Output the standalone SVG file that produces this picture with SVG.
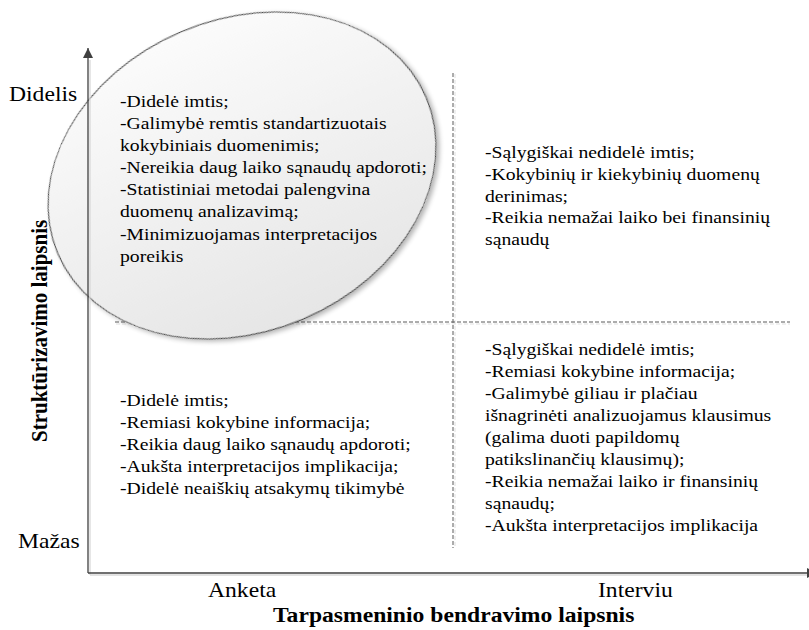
<svg xmlns="http://www.w3.org/2000/svg" width="809" height="630" viewBox="0 0 809 630">
  <defs>
    <linearGradient id="ellFill" x1="0" y1="0" x2="0" y2="1">
      <stop offset="0" stop-color="#fbfbfb"/>
      <stop offset="1" stop-color="#e6e6e6"/>
    </linearGradient>
    <filter id="shadow" x="-10%" y="-10%" width="125%" height="125%">
      <feGaussianBlur in="SourceAlpha" stdDeviation="2.5"/>
      <feOffset dx="2" dy="3" result="b"/>
      <feComponentTransfer><feFuncA type="linear" slope="0.3"/></feComponentTransfer>
      <feMerge><feMergeNode/><feMergeNode in="SourceGraphic"/></feMerge>
    </filter>
    <marker id="arrow" viewBox="0 0 10 10" refX="10" refY="5" markerWidth="10" markerHeight="10" markerUnits="userSpaceOnUse" orient="auto">
      <path d="M0,0 L10,5 L0,10 Z" fill="#404040"/>
    </marker>
  </defs>
  <style>
    .t { font-family: "Liberation Serif", "Times New Roman", serif; font-size: 17.5px; fill: #000; }
    .lab { font-family: "Liberation Serif", "Times New Roman", serif; font-size: 21px; fill: #000; }
    .ttl { font-family: "Liberation Serif", "Times New Roman", serif; font-size: 21px; font-weight: bold; fill: #000; }
    .axis { stroke: #404040; stroke-width: 1.3; fill: none; }
    .axshadow { stroke: #d9d9d9; stroke-width: 1.3; fill: none; }
    .dash { stroke: #5a5a5a; stroke-width: 1; stroke-dasharray: 4 2; fill: none; }
    .dashshadow { stroke: #e0e0e0; stroke-width: 1; stroke-dasharray: 4 2; fill: none; }
  </style>
  <rect width="809" height="630" fill="#ffffff"/>

  <g id="connectors">
    <line class="dashshadow" x1="116" y1="324" x2="790" y2="324"/>
    <line class="dashshadow" x1="455" y1="74" x2="455" y2="548"/>
    <line class="dash" x1="115" y1="322" x2="790" y2="322"/>
    <line class="dash" x1="453" y1="73" x2="453" y2="548"/>
  </g>

  <g id="ellipse-node">
    <ellipse cx="242" cy="175.5" rx="200" ry="156" transform="rotate(-23 242 175.5)" fill="url(#ellFill)" stroke="#3a3a3a" stroke-width="1" filter="url(#shadow)"/>
  </g>

  <g id="axes">
    <line class="axshadow" x1="90" y1="60" x2="90" y2="575"/>
    <line class="axshadow" x1="90" y1="575" x2="808" y2="575"/>
    <line class="axis" x1="88" y1="573" x2="88" y2="48" marker-end="url(#arrow)"/>
    <line class="axis" x1="88" y1="573" x2="817" y2="573" marker-end="url(#arrow)"/>
  </g>

  <g id="q-top-left">
    <text class="t" transform="translate(120 107) scale(1.125 1)"><tspan x="0" y="0">-Didelė imtis;</tspan><tspan x="0" y="22.1">-Galimybė remtis standartizuotais</tspan><tspan x="0" y="44.2">kokybiniais duomenimis;</tspan><tspan x="0" y="66.3">-Nereikia daug laiko sąnaudų apdoroti;</tspan><tspan x="0" y="88.4">-Statistiniai metodai palengvina</tspan><tspan x="0" y="110.5">duomenų analizavimą;</tspan><tspan x="0" y="132.6">-Minimizuojamas interpretacijos</tspan><tspan x="0" y="154.7">poreikis</tspan></text>
  </g>

  <g id="q-top-right">
    <text class="t" transform="translate(485 158) scale(1.125 1)"><tspan x="0" y="0">-Sąlygiškai nedidelė imtis;</tspan><tspan x="0" y="21.8">-Kokybinių ir kiekybinių duomenų</tspan><tspan x="0" y="43.6">derinimas;</tspan><tspan x="0" y="65.4">-Reikia nemažai laiko bei finansinių</tspan><tspan x="0" y="87.2">sąnaudų</tspan></text>
  </g>

  <g id="q-bottom-left">
    <text class="t" transform="translate(120 406) scale(1.125 1)"><tspan x="0" y="0">-Didelė imtis;</tspan><tspan x="0" y="21.9">-Remiasi kokybine informacija;</tspan><tspan x="0" y="43.8">-Reikia daug laiko sąnaudų apdoroti;</tspan><tspan x="0" y="65.7">-Aukšta interpretacijos implikacija;</tspan><tspan x="0" y="87.6">-Didelė neaiškių atsakymų tikimybė</tspan></text>
  </g>

  <g id="q-bottom-right">
    <text class="t" transform="translate(485 355) scale(1.125 1)"><tspan x="0" y="0">-Sąlygiškai nedidelė imtis;</tspan><tspan x="0" y="22">-Remiasi kokybine informacija;</tspan><tspan x="0" y="44">-Galimybė giliau ir plačiau</tspan><tspan x="0" y="66">išnagrinėti analizuojamus klausimus</tspan><tspan x="0" y="88">(galima duoti papildomų</tspan><tspan x="0" y="110">patikslinančių klausimų);</tspan><tspan x="0" y="132">-Reikia nemažai laiko ir finansinių</tspan><tspan x="0" y="154">sąnaudų;</tspan><tspan x="0" y="176">-Aukšta interpretacijos implikacija</tspan></text>
  </g>

  <g id="axis-labels">
    <text class="lab" transform="translate(9 101) scale(1.125 1)">Didelis</text>
    <text class="lab" transform="translate(18 548) scale(1.125 1)">Mažas</text>
    <text class="lab" transform="translate(208 597) scale(1.125 1)">Anketa</text>
    <text class="lab" transform="translate(598 597) scale(1.125 1)">Interviu</text>
    <text class="ttl" transform="translate(273 622) scale(1.125 1)">Tarpasmeninio bendravimo laipsnis</text>
    <text class="ttl" transform="translate(47 442) rotate(-90) scale(1 1.125)">Struktūrizavimo laipsnis</text>
  </g>
</svg>
